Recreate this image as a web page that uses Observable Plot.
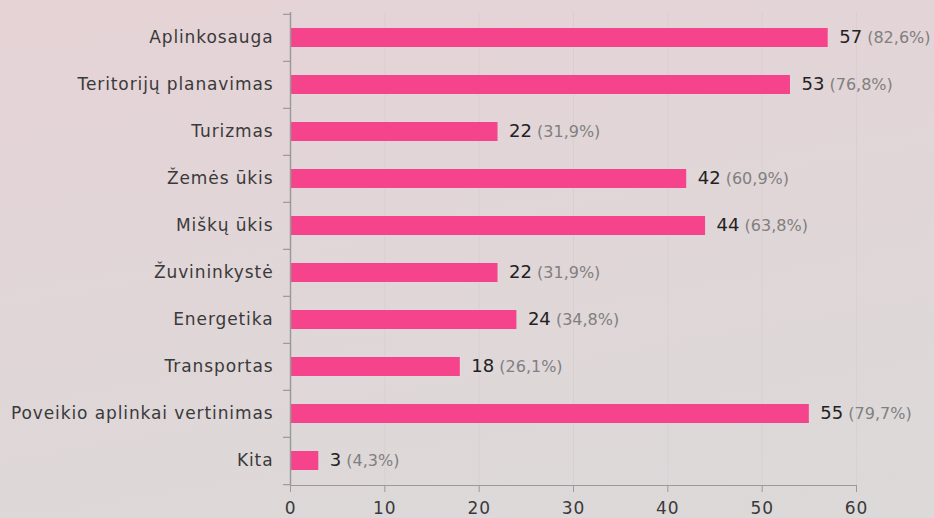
<!DOCTYPE html>
<html>
<head>
<meta charset="utf-8">
<script src="https://cdn.jsdelivr.net/npm/d3@7"></script>
<script src="https://cdn.jsdelivr.net/npm/@observablehq/plot@0.6"></script>
<style>
  html, body { margin: 0; padding: 0; }
  body {
    width: 934px; height: 518px; overflow: hidden;
    background: linear-gradient(170deg, #e6d3d6 0%, #e0d6d8 50%, #dcd9d9 100%);
    font-family: "DejaVu Sans", sans-serif;
  }
  svg { display: block; }
  .ylab text { letter-spacing: 0.9px; }
</style>
</head>
<body>
<div id="chart"></div>
<script>
const categories = ["Aplinkosauga", "Teritorijų planavimas", "Turizmas", "Žemės ūkis", "Miškų ūkis", "Žuvininkystė", "Energetika", "Transportas", "Poveikio aplinkai vertinimas", "Kita"];
const counts = [57, 53, 22, 42, 44, 22, 24, 18, 55, 3];
const percents = ["(82,6%)", "(76,8%)", "(31,9%)", "(60,9%)", "(63,8%)", "(31,9%)", "(34,8%)", "(26,1%)", "(79,7%)", "(4,3%)"];
const xTicks = [0, 10, 20, 30, 40, 50, 60];

const data = categories.map((c, i) => ({category: c, count: counts[i], pct: percents[i]}));

const W = 934, H = 518, mt = 12, mb = 33, ml = 290, mr = 78;
const step = (H - mt - mb) / categories.length;

const plot = Plot.plot({
  width: W,
  height: H,
  marginTop: mt,
  marginBottom: mb,
  marginLeft: ml,
  marginRight: mr,
  style: {background: "transparent", fontFamily: "DejaVu Sans, sans-serif", fontSize: "16px", color: "#333"},
  x: {domain: [0, 60], ticks: xTicks},
  y: {domain: categories, paddingInner: 0.6, paddingOuter: 0.3, align: 0.5},
  marks: [
    Plot.gridX(xTicks.slice(1), {stroke: "#000", strokeOpacity: 0.03, strokeWidth: 1}),
    Plot.barX(data, {y: "category", x: "count", fill: "#f5448b"}),
    Plot.ruleX([0], {stroke: "#9a9a9a", strokeWidth: 1.5}),
    Plot.frame({anchor: "bottom", stroke: "#9a9a9a", strokeWidth: 1.2}),
    Plot.axisX({ticks: xTicks, tickSize: 7, tickPadding: 9, stroke: "#9a9a9a", fill: "#3a3a3a", fontSize: 17, label: null, className: "ylab"}),
    Plot.axisY({tickSize: 0, tickPadding: 17, fill: "#3a3a3a", fontSize: 17, label: null, className: "ylab"}),
    Plot.axisY(categories, {tickSize: 7, text: null, dy: -step / 2, stroke: "#9a9a9a", strokeWidth: 1.2, label: null}),
    Plot.axisY([categories[categories.length - 1]], {tickSize: 7, text: null, dy: step / 2, stroke: "#9a9a9a", strokeWidth: 1.2, label: null}),
    Plot.text(data, {y: "category", x: "count", text: d => d.count + "|" + d.pct, textAnchor: "start", dx: 11, fontSize: 17, fill: "#222", className: "vlabel"})
  ]
});

document.getElementById("chart").appendChild(plot);

d3.select(plot).selectAll(".vlabel text").each(function() {
  const t = d3.select(this);
  const parts = t.text().split("|");
  t.text(null);
  t.append("tspan").text(parts[0]).attr("fill", "#222").attr("font-size", 18);
  t.append("tspan").text(" " + parts[1]).attr("fill", "#808080").attr("font-size", 16);
});
</script>
</body>
</html>
